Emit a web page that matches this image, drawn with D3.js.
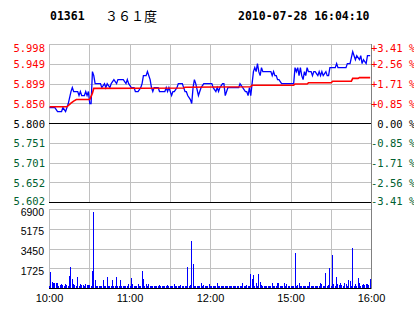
<!DOCTYPE html>
<html><head><meta charset="utf-8">
<script src="https://cdn.jsdelivr.net/npm/d3@7"></script>
<style>body{margin:0;background:#fff}svg{display:block}</style>
</head><body>
<script>
const stockCode = "01361";
const stockName = "３６１度";
const stamp = "2010-07-28 16:04:10";
const priceTickLabels = ["5.998","5.949","5.899","5.850","5.800","5.751","5.701","5.652","5.602"];
const pctTickLabels = ["+3.41 %","+2.56 %","+1.71 %","+0.85 %"," 0.00 %","-0.85 %","-1.71 %","-2.56 %","-3.41 %"];
const volTicks = [6900, 5175, 3450, 1725];
const timeLabels = ["10:00","11:00","12:00","15:00","16:00"];
const gridTimes = ["10:00","10:30","11:00","11:30","12:00","12:30","15:00","15:30","16:00"];

const priceTimes = ["10:00","10:04","10:06","10:09","10:10","10:12","10:13","10:14","10:16","10:17","10:18","10:21","10:22","10:23","10:24","10:25","10:26","10:27","10:28","10:29","10:30","10:31","10:32","10:33","10:34","10:38","10:39","10:41","10:42","10:43","10:45","10:46","10:48","10:50","10:51","10:55","10:57","10:58","10:59","11:01","11:03","11:04","11:06","11:08","11:09","11:10","11:12","11:13","11:15","11:16","11:17","11:18","11:21","11:22","11:26","11:27","11:28","11:29","11:31","11:32","11:33","11:35","11:36","11:39","11:40","11:41","11:42","11:43","11:45","11:46","11:47","11:48","11:49","11:51","11:52","11:53","11:55","12:01","12:02","12:04","12:05","12:06","12:07","12:09","12:10","12:11","12:12","12:13","12:21","12:22","12:24","12:26","12:27","12:28","12:29","12:30",
"14:31","14:32","14:33","14:34","14:35","14:36","14:37","14:38","14:39","14:45","14:46","14:47","14:48","14:49","14:50","14:51","14:53","15:02","15:03","15:04","15:05","15:06","15:07","15:08","15:09","15:10","15:11","15:12","15:13","15:15","15:16","15:17","15:18","15:20","15:21","15:22","15:23","15:24","15:26","15:27","15:28","15:29","15:33","15:34","15:35","15:41","15:42","15:44","15:46","15:47","15:48","15:49","15:51","15:52","15:53","15:54","15:56","15:57","15:59"];
const priceValues = [5.84,5.84,5.83,5.83,5.84,5.83,5.84,5.85,5.88,5.89,5.88,5.88,5.87,5.88,5.87,5.87,5.87,5.88,5.87,5.88,5.85,5.85,5.93,5.92,5.90,5.90,5.89,5.90,5.89,5.90,5.89,5.90,5.91,5.90,5.91,5.91,5.90,5.91,5.90,5.89,5.89,5.88,5.88,5.89,5.90,5.92,5.92,5.93,5.91,5.89,5.88,5.89,5.89,5.88,5.88,5.89,5.88,5.89,5.87,5.88,5.88,5.89,5.90,5.90,5.89,5.88,5.88,5.87,5.86,5.85,5.89,5.91,5.90,5.87,5.88,5.89,5.90,5.90,5.89,5.88,5.89,5.88,5.89,5.90,5.90,5.87,5.88,5.89,5.89,5.90,5.89,5.88,5.88,5.87,5.89,5.87,
5.90,5.93,5.94,5.93,5.95,5.93,5.92,5.94,5.93,5.93,5.92,5.93,5.92,5.92,5.91,5.91,5.90,5.90,5.94,5.93,5.94,5.92,5.94,5.92,5.91,5.93,5.92,5.94,5.93,5.93,5.92,5.93,5.93,5.92,5.93,5.92,5.93,5.92,5.93,5.92,5.92,5.94,5.94,5.95,5.94,5.94,5.95,5.95,5.98,5.97,5.96,5.97,5.96,5.97,5.95,5.96,5.95,5.97,5.97];

const avgTimes = ["10:00","10:13","10:16","10:18","10:20","10:30","10:32","10:33","11:40","11:41","12:30","14:31","15:02","15:03","15:12","15:13","15:30","15:31","15:45","15:46","15:50","15:51","15:59"];
const avgValues = [5.842,5.842,5.851,5.856,5.860,5.860,5.876,5.888,5.889,5.891,5.892,5.896,5.896,5.899,5.899,5.902,5.902,5.906,5.906,5.913,5.913,5.915,5.915];

// volume per minute slot, starting 10:00 (slot 150 = 12:30/14:30)
const volumes = [
250,1450,575,460,440,440,440,250,290,350,
290,250,400,290,250,1070,1900,810,400,290,
250,1010,250,400,290,290,250,350,290,290,
290,250,1510,6700,780,200,200,200,200,250,
780,250,200,1010,250,200,250,780,200,250,
1010,200,250,780,250,250,200,250,250,350,
250,900,400,250,200,250,350,200,250,1530,
870,250,400,250,350,200,250,200,200,200,
250,200,290,200,250,200,200,250,290,200,
250,200,250,350,200,200,250,200,290,200,
200,250,200,1880,250,290,4120,2110,250,200,
200,250,200,460,250,290,200,250,200,400,
250,200,250,200,250,460,200,250,200,250,
200,250,200,200,250,200,250,200,200,250,
200,250,200,250,460,200,250,290,200,250,
1300,870,1160,250,500,250,1300,600,290,250,
200,250,200,250,200,250,460,200,250,200,
460,460,200,250,200,460,250,350,200,200,
250,200,250,3100,250,290,460,250,200,250,
200,250,200,250,600,200,250,200,250,200,
250,200,460,350,250,200,1360,250,290,1790,
250,2960,350,250,1010,350,290,460,290,250,
460,400,250,780,650,250,3530,250,350,250,
920,460,250,290,400,290,400,350,290,810];

function slot(t){const [h,m]=t.split(":").map(Number);const v=h*60+m;return v<=750? v-600 : 150+(v-870);}

const W=414,H=314;
const L=49, R=371, PT=44, PB=202, VT=209, VB=288;
const red="#ff0000", green="#006030", grid="#c0c0c0";
const mono="'DejaVu Sans Mono', monospace", sans="'Liberation Sans', Arial, sans-serif";

const svg=d3.select("body").append("svg").attr("width",W).attr("height",H);
const x=d3.scaleLinear().domain([0,240]).range([L+0.5,R+0.5]);
const y=d3.scaleLinear().domain([5.602,5.998]).range([PB+0.5,PT+0.5]);
const vy=d3.scaleLinear().domain([0,6900]).range([VB+0.5,VT+0.5]);
const px=v=>Math.floor(v)+0.5;

// header
svg.append("text").attr("x",50).attr("y",20).attr("font-family",mono).attr("font-weight","bold").attr("font-size",11.5).text(stockCode);
svg.append("text").attr("x",105).attr("y",20.5).attr("font-family","'Noto Sans CJK SC', sans-serif").attr("font-size",13).text(stockName);
svg.append("text").attr("x",238).attr("y",20).attr("font-family",mono).attr("font-weight","bold").attr("font-size",11.5).text(stamp);

const g=svg.append("g").attr("shape-rendering","crispEdges");
// vertical grid
gridTimes.forEach(t=>{const xx=px(x(slot(t)));
  g.append("line").attr("x1",xx).attr("x2",xx).attr("y1",PT).attr("y2",PB+1).attr("stroke",grid);
  g.append("line").attr("x1",xx).attr("x2",xx).attr("y1",VT).attr("y2",VB+1).attr("stroke",grid);
});
// horizontal grid price
priceTickLabels.forEach((lab,i)=>{const yy=px(y(+lab));
  const col=(i===4||i===8)?"#000":grid;
  g.append("line").attr("x1",L).attr("x2",R+1).attr("y1",yy).attr("y2",yy).attr("stroke",col);
});
volTicks.forEach(v=>{const yy=px(vy(v));
  g.append("line").attr("x1",L).attr("x2",R+1).attr("y1",yy).attr("y2",yy).attr("stroke",grid);
});
// volume bars
volumes.forEach((v,i)=>{const top=Math.round(vy(v));
  g.append("rect").attr("x",Math.floor(x(i))).attr("y",top).attr("width",1).attr("height",VB-top).attr("fill","#0000ff");
});
g.append("line").attr("x1",L).attr("x2",R+1).attr("y1",VB+0.5).attr("y2",VB+0.5).attr("stroke","#000");
// right border
g.append("line").attr("x1",R+0.5).attr("x2",R+0.5).attr("y1",PT).attr("y2",VB+1).attr("stroke","#808080");

// price lines
const pts=priceTimes.map((t,i)=>[slot(t),priceValues[i]]);
const avg=avgTimes.map((t,i)=>[slot(t),avgValues[i]]);
const line=d3.line().x(d=>x(d[0])).y(d=>y(d[1]));
svg.append("path").attr("d",line(pts)).attr("fill","none").attr("stroke","#0000ff").attr("stroke-width",1.3);
svg.append("path").attr("d",line(avg)).attr("fill","none").attr("stroke",red).attr("stroke-width",1.6);

// left and right labels
priceTickLabels.forEach((lab,i)=>{
  let yy=y(+lab)+4; if(i===0) yy+=3; if(i===8) yy-=1.5;
  const col=i<4?red:(i===4?"#000":green);
  svg.append("text").attr("x",45).attr("y",yy).attr("text-anchor","end").attr("font-family",mono).attr("font-size",10.5).attr("fill",col).text(lab);
  svg.append("text").attr("x",371).attr("y",yy).attr("font-family",mono).attr("font-size",10.5).attr("fill",col).attr("xml:space","preserve").style("white-space","pre").text(pctTickLabels[i]);
});
volTicks.forEach(v=>{
  svg.append("text").attr("x",44).attr("y",vy(v)+6.2).attr("text-anchor","end").attr("font-family",sans).attr("font-size",10.5).text(v);
});
timeLabels.forEach(t=>{
  svg.append("text").attr("x",x(slot(t))).attr("y",302).attr("text-anchor","middle").attr("font-family",sans).attr("font-size",11).text(t);
});
</script>
</body></html>
